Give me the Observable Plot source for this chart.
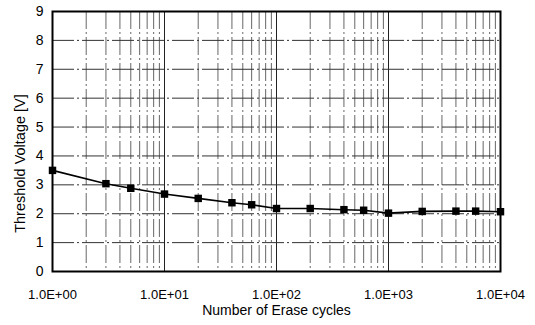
<!DOCTYPE html>
<html>
<head>
<meta charset="utf-8">
<script src="https://cdn.jsdelivr.net/npm/d3@7"></script>
<script src="https://cdn.jsdelivr.net/npm/@observablehq/plot@0.6"></script>
<style>
  body { margin: 0; background: #fff; }
  svg { font-family: "Liberation Sans", Arial, sans-serif; }
</style>
</head>
<body>
<div id="chart"></div>
<script>
const cycles = [1, 3, 5, 10, 20, 40, 60, 100, 200, 400, 600, 1000, 2000, 4000, 6000, 10000];
const voltage = [3.5, 3.04, 2.88, 2.68, 2.53, 2.38, 2.31, 2.18, 2.18, 2.14, 2.12, 2.02, 2.08, 2.09, 2.09, 2.07];
const xTicks = [1, 10, 100, 1000, 10000];
const xTickLabels = ["1.0E+00", "1.0E+01", "1.0E+02", "1.0E+03", "1.0E+04"];
const yTicks = [0, 1, 2, 3, 4, 5, 6, 7, 8, 9];
const xLabel = "Number of Erase cycles";
const yLabel = "Threshold Voltage [V]";

const data = cycles.map((c, i) => ({c, v: voltage[i]}));
const minorX = [];
for (let d = 1; d < 10000; d *= 10) for (let k = 2; k <= 9; k++) minorX.push(d * k);

const chart = Plot.plot({
  width: 535,
  height: 325,
  marginLeft: 52,
  marginRight: 35,
  marginTop: 11,
  marginBottom: 54,
  style: {fontSize: "13px", fontFamily: "Liberation Sans, Arial, sans-serif", color: "#000"},
  x: {type: "log", domain: [1, 10000]},
  y: {domain: [0, 9]},
  marks: [
    Plot.ruleX(minorX, {stroke: "#666", strokeWidth: 1, strokeDasharray: "18,3,2,3"}),
    Plot.ruleX(xTicks, {stroke: "#222", strokeWidth: 1}),
    Plot.ruleY(yTicks, {stroke: "#333", strokeWidth: 1, strokeDasharray: "22,3,2,3"}),
    Plot.frame({stroke: "#000", strokeWidth: 2}),
    Plot.axisX({ticks: xTicks, tickFormat: (d) => xTickLabels[xTicks.indexOf(d)], tickSize: 0, tickPadding: 18,
      label: null, fontSize: 13}),
    Plot.axisY({ticks: yTicks, tickSize: 0, tickPadding: 9, label: null, fontSize: 14}),
    Plot.text([xLabel], {frameAnchor: "bottom", dy: 43, text: (d) => d, fontSize: 14, letterSpacing: "0.4px"}),
    Plot.text([yLabel], {frameAnchor: "left", textAnchor: "middle", dx: -32, dy: 22, rotate: -90, text: (d) => d, fontSize: 14.5}),
    Plot.line(data, {x: "c", y: "v", stroke: "#000", strokeWidth: 1.6}),
    Plot.dot(data, {x: "c", y: "v", symbol: "square", r: 4.2, fill: "#000", stroke: "none"})
  ]
});
document.getElementById("chart").appendChild(chart);
</script>
</body>
</html>
